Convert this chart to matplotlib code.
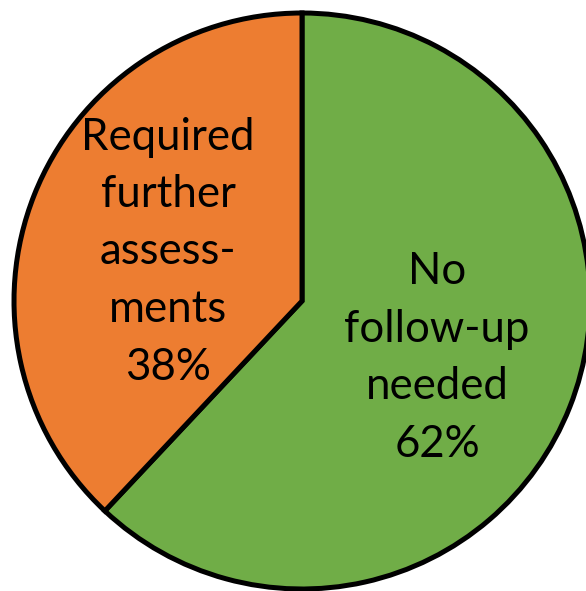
import matplotlib
matplotlib.use("Agg")
import matplotlib.pyplot as plt

labels = ["No\nfollow-up\nneeded\n62%", "Required\nfurther\nassess-\nments\n38%"]
values = [62, 38]
colors = ["#70AD47", "#ED7D31"]

W, H = 586, 591
fig = plt.figure(figsize=(W / 100, H / 100), dpi=100)
ax = fig.add_axes([0, 0, 1, 1])
cx, cy, r = 302, H - 301, 288
wedges, _ = ax.pie(values, colors=colors, startangle=90, counterclock=False,
                   center=(cx, cy), radius=r,
                   wedgeprops=dict(edgecolor="black", linewidth=3.6))
ax.set_xlim(0, W)
ax.set_ylim(0, H)
ax.set_aspect("equal")
ax.axis("off")

ax.text(437, H - 358, labels[0], ha="center", va="center", fontsize=31.5,
        family="Lato", linespacing=1.5)
ax.text(168, H - 252, labels[1], ha="center", va="center", fontsize=31.5,
        family="Lato", linespacing=1.5)

fig.savefig("out.png", dpi=100)
